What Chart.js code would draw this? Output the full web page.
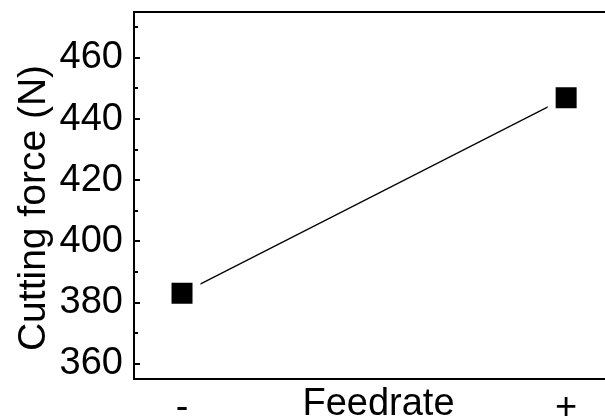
<!DOCTYPE html>
<html>
<head>
<meta charset="utf-8">
<script src="https://cdn.jsdelivr.net/npm/chart.js@4/dist/chart.umd.min.js"></script>
<style>
  html, body { margin: 0; padding: 0; background: #fff; }
  /* the plot frame runs past the right edge of the figure, as in the original */
  #wrap { width: 605px; height: 419px; overflow: hidden; }
  canvas { display: block; }
</style>
</head>
<body>
<div id="wrap"><canvas id="forceChart" width="623" height="419"></canvas></div>
<script>
// Chart data
var categories = ['-', '+'];
var cuttingForce = [383, 447];
var yTickValues = [360, 380, 400, 420, 440, 460];
var xTitle = 'Feedrate';
var yTitle = 'Cutting force (N)';

var ctx = document.getElementById('forceChart').getContext('2d');
var fontFamily = '"Liberation Sans", Arial, sans-serif';
var font = { family: fontFamily, size: 38, lineHeight: 1 };

// inward y ticks, the top frame line and the y title (sits a bit low in the original)
var frameTicks = {
    id: 'frameTicks',
    afterDraw: function (chart) {
        var y = chart.scales.y;
        var c = chart.ctx;
        var area = chart.chartArea;
        c.save();
        c.strokeStyle = '#000';
        c.lineWidth = 2;
        for (var v = Math.ceil(y.min / 10) * 10; v <= y.max; v += 10) {
            var py = Math.round(y.getPixelForValue(v));
            var len = (v % 20 === 0) ? 6 : 4;
            c.beginPath();
            c.moveTo(area.left, py);
            c.lineTo(area.left + len, py);
            c.stroke();
        }
        c.beginPath();
        c.moveTo(area.left - 1, area.top);
        c.lineTo(chart.width, area.top);
        c.stroke();

        c.translate(34, 208);
        c.rotate(-Math.PI / 2);
        c.fillStyle = '#000';
        c.font = '39px ' + fontFamily;
        c.textAlign = 'center';
        c.textBaseline = 'middle';
        c.fillText(yTitle, 0, 0);
        c.restore();
    }
};

var points = categories.map(function (label, i) {
    return { x: i, y: cuttingForce[i] };
});

var forceChart = new Chart(ctx, {
    type: 'line',
    data: {
        datasets: [
            {
                label: yTitle,
                data: points,
                borderColor: '#000',
                borderWidth: 1.2,
                pointStyle: 'rect',
                pointRadius: 20.5,
                pointBackgroundColor: '#000',
                pointBorderColor: '#fff',
                pointBorderWidth: 8,
                fill: false
            }
        ]
    },
    options: {
        responsive: false,
        animation: false,
        events: [],
        layout: { autoPadding: false, padding: { top: 12, right: 0, bottom: 0, left: 0 } },
        plugins: { legend: { display: false }, tooltip: { enabled: false } },
        scales: {
            x: {
                type: 'linear',
                min: -0.125,
                max: 1.148,
                grid: { display: false, drawTicks: false },
                border: { display: true, color: '#000', width: 2 },
                afterBuildTicks: function (scale) {
                    scale.ticks = categories.map(function (c, i) { return { value: i }; });
                },
                afterFit: function (scale) {
                    scale.paddingLeft = 0;
                    scale.paddingRight = 0;
                },
                ticks: {
                    color: '#000',
                    font: font,
                    padding: 11,
                    maxRotation: 0,
                    callback: function (value) { return categories[value]; }
                },
                title: {
                    display: true,
                    text: xTitle,
                    color: '#000',
                    font: font,
                    padding: { top: -53, bottom: -5 }
                }
            },
            y: {
                min: 355,
                max: 475,
                grid: { display: false, drawTicks: false },
                border: { display: true, color: '#000', width: 2 },
                afterBuildTicks: function (scale) {
                    scale.ticks = yTickValues.map(function (v) { return { value: v }; });
                },
                afterFit: function (scale) {
                    scale.width = 134;
                    scale.paddingTop = 0;
                    scale.paddingBottom = 0;
                },
                ticks: {
                    color: '#000',
                    font: font,
                    padding: 11
                }
            }
        }
    },
    plugins: [frameTicks]
});
</script>
</body>
</html>
